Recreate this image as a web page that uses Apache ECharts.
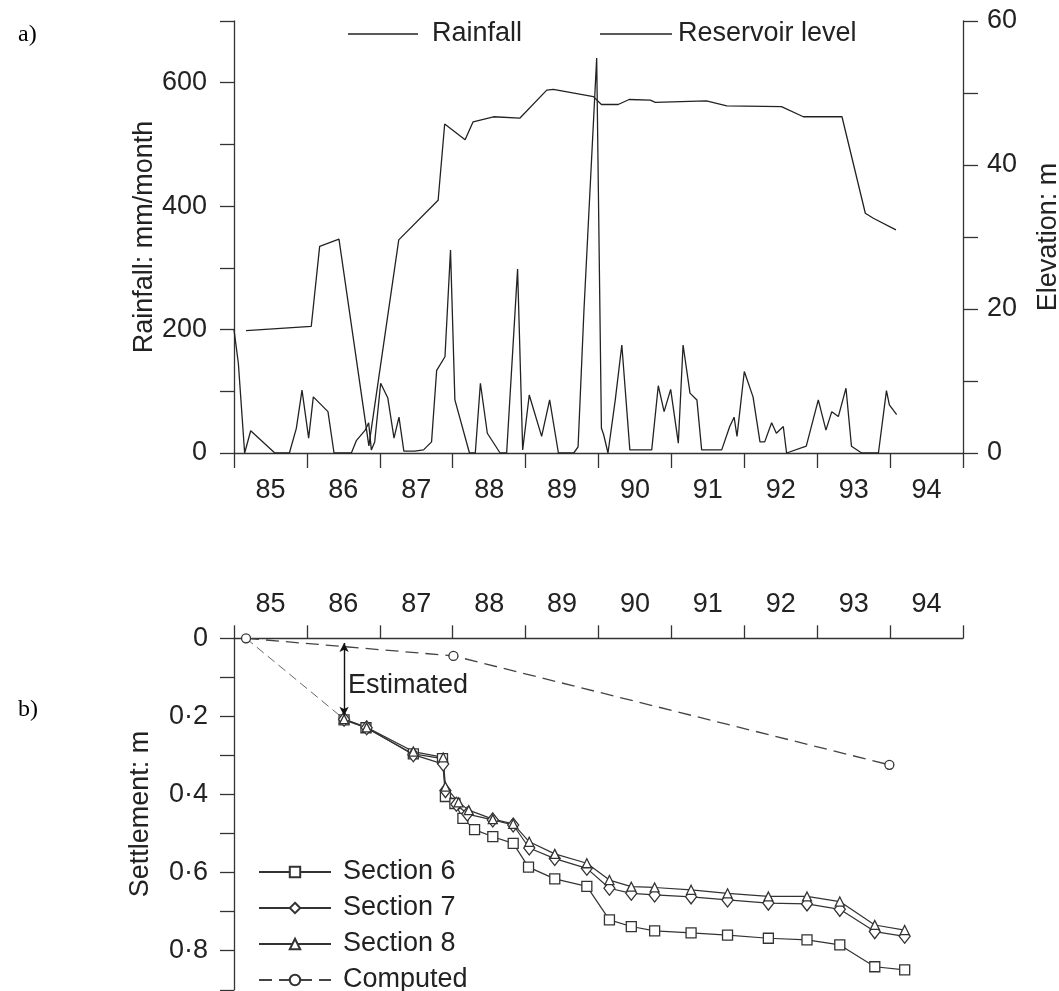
<!DOCTYPE html>
<html><head><meta charset="utf-8">
<script src="https://cdn.jsdelivr.net/npm/echarts@6/dist/echarts.min.js"></script>
<style>html,body{margin:0;padding:0;background:#fff}#c{width:1059px;height:991px}</style>
</head><body><div id="c"></div>
<script>
// ---- data ----
const yearLabels = ['85','86','87','88','89','90','91','92','93','94'];

const rainTime = [85.00,85.06,85.146,85.229,85.56,85.76,85.855,85.933,86.024,86.088,86.289,86.372,86.61,86.678,86.80,86.847,86.884,86.93,87.012,87.11,87.195,87.263,87.33,87.48,87.60,87.71,87.78,87.894,87.97,88.03,88.23,88.31,88.38,88.475,88.65,88.74,88.89,88.96,89.05,89.22,89.33,89.45,89.66,89.72,89.80,89.975,90.04,90.07,90.13,90.23,90.32,90.43,90.73,90.82,90.90,90.99,91.095,91.16,91.255,91.35,91.415,91.69,91.80,91.86,91.90,92.00,92.12,92.215,92.28,92.375,92.44,92.535,92.58,92.85,93.015,93.12,93.20,93.29,93.395,93.47,93.61,93.84,93.95,93.99,94.09];
const rainValue = [200,145,0,36,0,0,40,102,24,91,67,0,0,20,37,49,5,18,113,89,24,58,3,3,5,18,134,156,329,86,0,0,113,32,0,0,298,5,94,27,86,0,0,10,230,640,40,30,0,86,175,5,5,109,67,103,16,175,97,86,5,5,43,58,27,132,91,18,18,49,32,43,0,11,86,37,67,59,105,11,0,0,101,78,62];

const levelTime = [85.165,86.06,86.175,86.44,86.85,87.26,87.80,87.89,88.17,88.28,88.56,88.92,89.29,89.38,89.93,90.04,90.27,90.42,90.71,90.78,91.48,91.76,92.51,92.81,93.34,93.66,93.77,94.08];
const levelValue = [17.0,17.6,28.7,29.7,1.0,29.6,35.1,45.7,43.5,46.0,46.7,46.5,50.4,50.5,49.5,48.4,48.4,49.1,49.0,48.7,48.9,48.2,48.1,46.7,46.7,33.3,32.6,31.0];

const sec6Time = [86.51,86.81,87.46,87.86,87.90,88.03,88.14,88.30,88.55,88.83,89.04,89.40,89.84,90.15,90.45,90.77,91.27,91.77,92.33,92.86,93.31,93.79,94.20];
const sec6Value = [0.209,0.229,0.296,0.308,0.405,0.423,0.461,0.490,0.508,0.525,0.586,0.616,0.635,0.721,0.738,0.749,0.754,0.760,0.768,0.772,0.785,0.841,0.849];

const sec7Time = [86.51,86.82,87.46,87.87,87.90,88.05,88.20,88.55,88.83,89.05,89.40,89.84,90.15,90.45,90.77,91.27,91.77,92.33,92.86,93.31,93.79,94.20];
const sec7Value = [0.207,0.229,0.298,0.322,0.390,0.425,0.450,0.465,0.478,0.537,0.564,0.589,0.640,0.653,0.657,0.662,0.670,0.678,0.680,0.694,0.751,0.763];

const sec8Time = [86.51,86.82,87.46,87.87,87.90,88.08,88.22,88.55,88.83,89.05,89.40,89.84,90.15,90.45,90.77,91.27,91.77,92.33,92.86,93.31,93.79,94.20];
const sec8Value = [0.207,0.228,0.290,0.305,0.380,0.420,0.440,0.463,0.475,0.521,0.552,0.576,0.619,0.636,0.638,0.644,0.653,0.661,0.661,0.674,0.734,0.747];

const computedTime = [85.165,88.01,93.99];
const computedValue = [0,0.045,0.324];

const estimatedTime = [85.165,86.51];
const estimatedValue = [0,0.207];
const estimatedArrow = {time: 86.51, from: 0.012, to: 0.198, labelAt: 0.12};

// ---- helpers ----
const zip = (a, b) => a.map((v, i) => [v, b[i]]);
const FONT = "'Liberation Sans', Arial, sans-serif";
const INK = '#222';
const axisLineStyle = {color: '#333', width: 1.3};
const txt = {fontFamily: FONT, fontSize: 27, color: INK};

const chart = echarts.init(document.getElementById('c'), null, {renderer: 'canvas'});

const catAxis = (grid, pos, tickLen, margin) => ({
  type: 'category', gridIndex: grid, position: pos, data: yearLabels, boundaryGap: true,
  axisLine: {show: true, onZero: false, lineStyle: axisLineStyle},
  axisTick: {show: true, length: tickLen, lineStyle: axisLineStyle},
  axisLabel: Object.assign({margin: margin}, txt),
  splitLine: {show: false}
});
const valXAxis = (grid) => ({type: 'value', gridIndex: grid, min: 85, max: 95, show: false});

const markerStyle = {color: '#fff', borderColor: '#333', borderWidth: 1.3};
const dotFmt = v => (v === 0 ? '0' : v.toFixed(1).replace('.', '\u00B7'));

const option = {
  animation: false,
  backgroundColor: '#fff',
  grid: [
    {left: 234, top: 21, width: 729, height: 432, outerBoundsMode: 'none', containLabel: false},
    {left: 234, top: 638.3, width: 729, height: 351.5, outerBoundsMode: 'none', containLabel: false}
  ],
  xAxis: [
    catAxis(0, 'bottom', 15, 24),
    valXAxis(0),
    catAxis(1, 'top', 13, 20),
    valXAxis(1)
  ],
  yAxis: [
    {
      type: 'value', gridIndex: 0, position: 'left', min: 0, max: 700, interval: 100,
      name: 'Rainfall: mm/month', nameLocation: 'middle', nameGap: 76, nameMoveOverlap: false,
      nameTextStyle: Object.assign({}, txt),
      axisLine: {show: true, onZero: false, lineStyle: axisLineStyle},
      axisTick: {show: true, length: 14, lineStyle: axisLineStyle},
      axisLabel: Object.assign({margin: 27, formatter: v => (v % 200 === 0 ? String(v) : '')}, txt),
      splitLine: {show: false}
    },
    {
      type: 'value', gridIndex: 0, position: 'right', min: 0, max: 60, interval: 10,
      name: 'Elevation: m', nameLocation: 'middle', nameGap: 72, nameMoveOverlap: false,
      nameTextStyle: Object.assign({}, txt),
      axisLine: {show: true, onZero: false, lineStyle: axisLineStyle},
      axisTick: {show: true, length: 15, lineStyle: axisLineStyle},
      axisLabel: Object.assign({margin: 24, formatter: v => (v % 20 === 0 ? String(v) : '')}, txt),
      splitLine: {show: false}
    },
    {
      type: 'value', gridIndex: 1, position: 'left', inverse: true, min: 0, max: 0.9, interval: 0.1,
      name: 'Settlement: m', nameLocation: 'middle', nameGap: 80, nameMoveOverlap: false,
      nameTextStyle: Object.assign({}, txt),
      axisLine: {show: true, onZero: false, lineStyle: axisLineStyle},
      axisTick: {show: true, length: 14, lineStyle: axisLineStyle},
      axisLabel: Object.assign({margin: 26, formatter: v => {
        const k = Math.round(v * 10);
        return (k % 2 === 0 && k <= 8) ? dotFmt(k / 10) : '';
      }}, txt),
      splitLine: {show: false}
    }
  ],
  legend: [
    {
      left: 348, top: 20, padding: 0, data: ['Rainfall'], icon: 'rect', itemWidth: 70, itemHeight: 1.4,
      textStyle: Object.assign({lineHeight: 28, padding: [0, 0, 0, 9]}, txt), selectedMode: false
    },
    {
      left: 600, top: 20, padding: 0, data: ['Reservoir level'], icon: 'rect', itemWidth: 72, itemHeight: 1.4,
      textStyle: Object.assign({lineHeight: 28, padding: [0, 0, 0, 1]}, txt), selectedMode: false
    },
    {
      left: 258, top: 858, height: 150, padding: 0, orient: 'vertical', itemGap: 8, itemWidth: 72, itemHeight: 13,
      data: ['Section 6', 'Section 7', 'Section 8', 'Computed'],
      textStyle: Object.assign({lineHeight: 28, padding: [0, 0, 0, 7]}, txt), selectedMode: false
    }
  ],
  graphic: [
    {type: 'text', left: 18, top: 23, style: {text: 'a)', font: "24px 'Liberation Serif', 'Times New Roman', serif", fill: '#000'}},
    {type: 'text', left: 18, top: 698, style: {text: 'b)', font: "24px 'Liberation Serif', 'Times New Roman', serif", fill: '#000'}}
  ],
  series: [
    {
      name: 'Rainfall', type: 'line', xAxisIndex: 1, yAxisIndex: 0,
      data: zip(rainTime, rainValue), symbol: 'none',
      lineStyle: {color: INK, width: 1.3}, itemStyle: {color: INK}
    },
    {
      name: 'Reservoir level', type: 'line', xAxisIndex: 1, yAxisIndex: 1,
      data: zip(levelTime, levelValue), symbol: 'none',
      lineStyle: {color: INK, width: 1.3}, itemStyle: {color: INK}
    },
    {
      name: 'Estimated', type: 'line', xAxisIndex: 3, yAxisIndex: 2,
      data: zip(estimatedTime, estimatedValue), symbol: 'none',
      lineStyle: {color: '#666', width: 1, type: [9, 5]},
      markLine: {
        silent: true, symbol: ['arrow', 'arrow'], symbolSize: [7, 9],
        lineStyle: {color: '#111', width: 1.4, type: 'solid'},
        label: {show: false},
        data: [[{coord: [estimatedArrow.time, estimatedArrow.from]}, {coord: [estimatedArrow.time, estimatedArrow.to]}]]
      },
      markPoint: {
        silent: true, symbol: 'circle', symbolSize: 0,
        label: Object.assign({show: true, position: 'right', distance: 4, formatter: 'Estimated'}, txt),
        data: [{coord: [estimatedArrow.time, estimatedArrow.labelAt]}]
      }
    },
    {
      name: 'Computed', type: 'line', xAxisIndex: 3, yAxisIndex: 2,
      data: zip(computedTime, computedValue), symbol: 'circle', symbolSize: 9,
      lineStyle: {color: '#444', width: 1.3, type: [13, 7]},
      itemStyle: markerStyle
    },
    {
      name: 'Section 6', type: 'line', xAxisIndex: 3, yAxisIndex: 2,
      data: zip(sec6Time, sec6Value), symbol: 'rect', symbolSize: 10,
      lineStyle: {color: '#333', width: 1.2}, itemStyle: markerStyle
    },
    {
      name: 'Section 7', type: 'line', xAxisIndex: 3, yAxisIndex: 2,
      data: zip(sec7Time, sec7Value), symbol: 'diamond', symbolSize: [11, 14],
      lineStyle: {color: '#333', width: 1.2}, itemStyle: markerStyle
    },
    {
      name: 'Section 8', type: 'line', xAxisIndex: 3, yAxisIndex: 2,
      data: zip(sec8Time, sec8Value), symbol: 'triangle', symbolSize: [9, 9],
      lineStyle: {color: '#333', width: 1.2}, itemStyle: markerStyle
    }
  ]
};
chart.setOption(option);
</script>
</body></html>
